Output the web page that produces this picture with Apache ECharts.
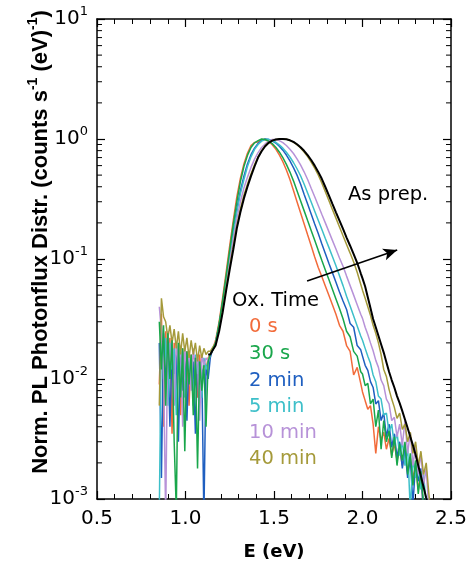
<!DOCTYPE html>
<html><head><meta charset="utf-8">
<script src="https://cdn.jsdelivr.net/npm/echarts/dist/echarts.min.js"></script>
<style>html,body{margin:0;padding:0;background:#fff}#c{width:471px;height:567px}</style>
</head><body><div id="c"></div>
<script>
// ---------- energy grids (eV) ----------
const noiseE = [0.852,0.864,0.876,0.888,0.900,0.912,0.924,0.936,0.948,0.960,0.972,0.984,0.996,1.008,1.020,1.032,1.044,1.056,1.068,1.080,1.092,1.104,1.116,1.128,1.140];
const mainE = [1.15,1.17,1.19,1.21,1.23,1.25,1.27,1.29,1.31,1.33,1.35,1.37,1.39,1.41,1.43,1.45,1.47,1.49,1.51,1.53,1.55,1.57,1.59,1.61,1.63,1.65,1.67,1.69,1.71,1.73,1.75,1.77,1.79,1.81,1.83,1.85,1.87,1.89,1.91,1.93,1.95,1.97,1.99];
const tailE = [2.000,2.015,2.030,2.045,2.060,2.075,2.090,2.105,2.120,2.135,2.150,2.165,2.180,2.195,2.210,2.225,2.240,2.255,2.270,2.285,2.300,2.315,2.330,2.345,2.360,2.375,2.390];

// ---------- 0 s ----------
const noise0s = [0.009,0.035,0.004,0.025,0.012,0.022,0.0035,0.02,0.008,0.019,0.005,0.018,0.011,0.017,0.006,0.016,0.010,0.015,0.007,0.016,0.009,0.014,0.012,0.015,0.016];
const main0s = [0.017,0.021,0.03,0.048,0.078,0.13,0.21,0.33,0.47,0.62,0.76,0.88,0.935,0.945,0.99,0.99,0.953,0.897,0.823,0.738,0.646,0.551,0.459,0.372,0.30,0.243,0.197,0.159,0.129,0.104,0.085,0.0715,0.0596,0.0498,0.0415,0.0347,0.028,0.025,0.019,0.017,0.0108,0.0125,0.0092];
const tail0s = [0.0078,0.0066,0.0056,0.0060,0.0042,0.0024,0.0040,0.0031,0.0036,0.0026,0.0032,0.0023,0.0029,0.0021,0.0026,0.0019,0.0024,0.0017,0.0022,0.0015,0.0019,0.0012,0.0016,0.0008,null,null,null];
// ---------- 30 s ----------
const noise30s = [0.03,0.012,0.028,0.006,0.024,0.01,0.021,0.003,0.0008,0.02,0.007,0.018,0.0025,0.017,0.009,0.016,0.005,0.015,0.0018,0.014,0.008,0.013,0.004,0.014,0.016];
const main30s = [0.017,0.02,0.029,0.045,0.073,0.12,0.195,0.30,0.44,0.59,0.73,0.85,0.93,0.97,1.0,0.99,0.961,0.915,0.853,0.78,0.70,0.615,0.53,0.448,0.37,0.306,0.253,0.209,0.173,0.143,0.118,0.0975,0.081,0.0675,0.056,0.0465,0.0387,0.0318,0.025,0.0225,0.017,0.0155,0.0115];
const tail30s = [0.011,0.0088,0.0092,0.0062,0.0068,0.004,0.0055,0.0026,0.0045,0.003,0.0037,0.0022,0.0033,0.0019,0.0029,0.0021,0.003,0.0016,0.0024,0.0013,0.0021,0.0011,0.0017,0.0009,0.0007,null,null];
// ---------- 2 min ----------
const noise2m = [0.02,0.0015,0.024,0.009,0.02,0.004,0.018,0.011,0.016,0.003,0.017,0.008,0.015,0.0045,0.016,0.01,0.014,0.0035,0.015,0.009,0.012,0.0007,0.013,0.01,0.015];
const main2m = [0.017,0.02,0.028,0.043,0.068,0.11,0.17,0.26,0.37,0.49,0.62,0.74,0.84,0.92,0.97,1.0,0.99,0.966,0.926,0.872,0.807,0.735,0.657,0.578,0.50,0.422,0.347,0.287,0.237,0.196,0.163,0.134,0.111,0.092,0.077,0.064,0.053,0.0446,0.038,0.029,0.027,0.019,0.0175];
const tail2m = [0.0155,0.013,0.0118,0.0095,0.0085,0.0062,0.0066,0.0045,0.0052,0.0033,0.0042,0.0027,0.0035,0.0022,0.003,0.0018,0.0026,0.0015,0.0022,0.0009,0.002,0.0014,0.0018,0.0007,null,null,null];
// ---------- 5 min ----------
const noise5m = [0.0008,0.028,0.01,0.022,0.006,0.02,0.012,0.018,0.005,0.019,0.011,0.017,0.007,0.016,0.012,0.015,0.006,0.016,0.011,0.014,0.007,0.015,0.012,0.014,0.016];
const main5m = [0.017,0.02,0.028,0.042,0.066,0.105,0.162,0.245,0.35,0.46,0.59,0.71,0.82,0.90,0.96,0.99,0.993,0.972,0.939,0.894,0.839,0.776,0.708,0.637,0.565,0.494,0.422,0.355,0.298,0.25,0.21,0.177,0.148,0.125,0.105,0.088,0.0725,0.06,0.049,0.0406,0.0335,0.0276,0.0228];
const tail5m = [0.021,0.018,0.0155,0.0135,0.0108,0.0095,0.0072,0.0068,0.005,0.0052,0.0036,0.0042,0.0028,0.0036,0.0023,0.003,0.0019,0.0027,0.0008,0.0022,0.0015,0.002,0.0012,0.0016,0.0009,null,null];
// ---------- 10 min ----------
const noise10m = [0.04,0.025,0.012,0.0007,0.025,0.014,0.022,0.006,0.02,0.013,0.019,0.004,0.018,0.012,0.017,0.008,0.018,0.012,0.016,0.0045,0.016,0.013,0.015,0.014,0.016];
const main10m = [0.017,0.02,0.027,0.04,0.062,0.095,0.145,0.215,0.30,0.39,0.48,0.58,0.68,0.77,0.85,0.91,0.96,0.99,0.992,0.969,0.933,0.883,0.823,0.757,0.684,0.608,0.533,0.46,0.389,0.33,0.279,0.236,0.2,0.169,0.143,0.121,0.102,0.087,0.072,0.06,0.05,0.0416,0.0346];
const tail10m = [0.032,0.027,0.0235,0.02,0.0172,0.0143,0.0125,0.0098,0.0088,0.0068,0.0062,0.0045,0.0048,0.0033,0.0042,0.0028,0.0045,0.0024,0.0036,0.0019,0.0028,0.0016,0.0024,0.0013,0.0018,0.0008,null];
// ---------- 40 min ----------
const noise40m = [0.006,0.047,0.033,0.03,0.022,0.028,0.02,0.026,0.018,0.025,0.016,0.024,0.017,0.022,0.015,0.021,0.016,0.02,0.014,0.019,0.015,0.018,0.016,0.017,0.017];
const main40m = [0.018,0.02,0.026,0.038,0.058,0.087,0.128,0.19,0.26,0.34,0.42,0.51,0.61,0.71,0.80,0.88,0.935,0.97,0.99,0.995,1.0,0.997,0.973,0.94,0.895,0.841,0.78,0.713,0.643,0.571,0.501,0.43,0.363,0.307,0.259,0.219,0.185,0.156,0.132,0.112,0.0944,0.0776,0.0617];
const tail40m = [0.055,0.047,0.04,0.034,0.028,0.024,0.02,0.016,0.012,0.0105,0.0082,0.0068,0.0058,0.0047,0.0052,0.0038,0.0042,0.003,0.0036,0.0024,0.003,0.0019,0.0025,0.0016,0.002,0.0011,0.0007];
// ---------- As prep. ----------
const noisePrep = [null,null,null,null,null,null,null,null,null,null,null,null,null,null,null,null,null,null,null,null,null,null,null,0.016,0.016];
const mainPrep = [0.017,0.019,0.025,0.036,0.055,0.082,0.12,0.18,0.245,0.32,0.40,0.49,0.59,0.70,0.79,0.87,0.93,0.97,0.99,1.0,1.0,0.994,0.975,0.945,0.904,0.854,0.797,0.734,0.668,0.60,0.532,0.466,0.398,0.339,0.288,0.245,0.209,0.178,0.151,0.129,0.11,0.093,0.076];
const tailPrep = [0.069,0.059,0.048,0.039,0.0316,0.027,0.0229,0.0195,0.0166,0.0138,0.0115,0.0098,0.0085,0.0072,0.0063,0.0054,0.0046,0.0039,0.0033,0.0028,0.00234,0.0019,0.00155,0.00126,0.00102,0.00083,null];

const seriesNames = ['0 s','30 s','2 min','5 min','10 min','40 min','As prep.'];
const seriesColors = ['#f26b3a','#19a64b','#1f5fc0','#3dbfc9','#b792d8','#a59a3a','#000000'];
const drawOrder = [0,2,3,4,5,1,6];
const allData = [
  [noise0s,main0s,tail0s],[noise30s,main30s,tail30s],[noise2m,main2m,tail2m],
  [noise5m,main5m,tail5m],[noise10m,main10m,tail10m],[noise40m,main40m,tail40m],
  [noisePrep,mainPrep,tailPrep]
];

// axes
const xTickValues = [0.5,1.0,1.5,2.0,2.5];
const xTickLabels = ['0.5','1.0','1.5','2.0','2.5'];
const yTickValues = [0.001,0.01,0.1,1,10];
const yTickExponents = ['-3','-2','-1','0','1'];
const yMinorMultipliers = [2,3,4,5,6,7,8,9];

// annotation
const arrowStart = [1.687, 0.0657];
const arrowEnd = [2.196, 0.119];

function pts(parts){
  const out=[];
  [noiseE,mainE,tailE].forEach((E,k)=>E.forEach((e,i)=>{ const v=parts[k][i]; if(v!=null) out.push([e,v]); }));
  return out;
}

const minorLogData = [];
for (let d=0; d<yTickValues.length-1; d++) yMinorMultipliers.forEach(m=>minorLogData.push([0.5, m*yTickValues[d]]));

const series = drawOrder.map(idx=>{
  const s = {
    name: seriesNames[idx], type:'line', data: pts(allData[idx]),
    showSymbol:false, symbol:'none', clip:true, silent:true,
    lineStyle:{color:seriesColors[idx], width: idx===6 ? 2 : 1.5},
    z: 2
  };
  if (idx===6) {
    s.markLine = {
      silent:true, symbol:['none','arrow'], symbolSize:[9,14],
      label:{show:false}, lineStyle:{color:'#000',width:1.6,type:'solid'},
      data:[[{coord:arrowStart},{coord:arrowEnd}]]
    };
  }
  return s;
});

series.push({
  type:'custom', silent:true, clip:false, z:5,
  data: minorLogData,
  renderItem:(params, api)=>{
    const v = api.value(1);
    const pl = api.coord([xTickValues[0], v]);
    const pr = api.coord([xTickValues[xTickValues.length-1], v]);
    return {type:'group', children:[
      {type:'line', shape:{x1:pl[0],y1:pl[1],x2:pl[0]+5,y2:pl[1]}, style:{stroke:'#000',lineWidth:1}},
      {type:'line', shape:{x1:pr[0]-5,y1:pr[1],x2:pr[0],y2:pr[1]}, style:{stroke:'#000',lineWidth:1}}
    ]};
  }
});

const axisCommonX = {
  type:'value', min:0.5, max:2.5, interval:0.5,
  axisLine:{show:true,onZero:false,lineStyle:{color:'#000',width:1.5}},
  axisTick:{show:true,inside:true,length:8,lineStyle:{color:'#000',width:1.2}},
  minorTick:{show:true,splitNumber:5,length:5,lineStyle:{color:'#000',width:1}},
  splitLine:{show:false}
};
const axisCommonY = {
  type:'log', logBase:10, min:0.001, max:10,
  axisLine:{show:true,onZero:false,lineStyle:{color:'#000',width:1.5}},
  axisTick:{show:true,inside:true,length:8,lineStyle:{color:'#000',width:1.2}},
  splitLine:{show:false}
};

const textFont = '"DejaVu Sans", sans-serif';
const annot = [];
annot.push({type:'text', x:348, y:195, style:{text:'As prep.', fill:'#000', font:'19.5px '+textFont, align:'left', verticalAlign:'middle'}});
annot.push({type:'text', x:232, y:301, style:{text:'Ox. Time', fill:'#000', font:'19.5px '+textFont, align:'left', verticalAlign:'middle'}});
const legendY = [327,354,381,407,433,459];
for (let i=0;i<6;i++) annot.push({type:'text', x:249, y:legendY[i], style:{text:seriesNames[i], fill:seriesColors[i], font:'19.5px '+textFont, align:'left', verticalAlign:'middle'}});
annot.push({type:'text', x:41, y:242, rotation:Math.PI/2, style:{
  text:'{t|Norm. PL Photonflux Distr. (counts s}{s|-1}{t| (eV)}{s|-1}{t|)}',
  align:'center', verticalAlign:'middle',
  rich:{
    t:{fontFamily:'"Liberation Sans", Arial, sans-serif', fontWeight:'bold', fontSize:22, lineHeight:30, fill:'#000'},
    s:{fontFamily:'"Liberation Sans", Arial, sans-serif', fontWeight:'bold', fontSize:14, lineHeight:16, verticalAlign:'top', fill:'#000'}
  }
}});

const chart = echarts.init(document.getElementById('c'), null, {renderer:'canvas'});
chart.setOption({
  animation:false,
  backgroundColor:'#ffffff',
  grid:{left:97, right:20, top:19, bottom:68},
  xAxis:[
    Object.assign({}, axisCommonX, {position:'bottom',
      axisLabel:{show:true, margin:10, color:'#000', fontSize:20, fontFamily:textFont,
        formatter:v=>{const i=xTickValues.findIndex(t=>Math.abs(t-v)<1e-9); return i>=0?xTickLabels[i]:'';}},
      name:'E (eV)', nameLocation:'middle', nameGap:44,
      nameTextStyle:{color:'#000', fontSize:18, fontWeight:'bold', fontFamily:textFont}}),
    Object.assign({}, axisCommonX, {position:'top', axisLabel:{show:false}})
  ],
  yAxis:[
    Object.assign({}, axisCommonY, {position:'left',
      axisLabel:{show:true, margin:9, color:'#000',
        formatter:v=>{const i=yTickValues.findIndex(t=>Math.abs(Math.log10(t)-Math.log10(v))<1e-6); return i>=0?('{b|10}{e|'+yTickExponents[i]+'}'):'';},
        rich:{
          b:{fontSize:20, fontFamily:textFont, color:'#000', lineHeight:28},
          e:{fontSize:13, fontFamily:textFont, color:'#000', verticalAlign:'top', lineHeight:15}
        }}}),
    Object.assign({}, axisCommonY, {position:'right', axisLabel:{show:false}})
  ],
  series: series,
  graphic: annot
});
</script></body></html>
